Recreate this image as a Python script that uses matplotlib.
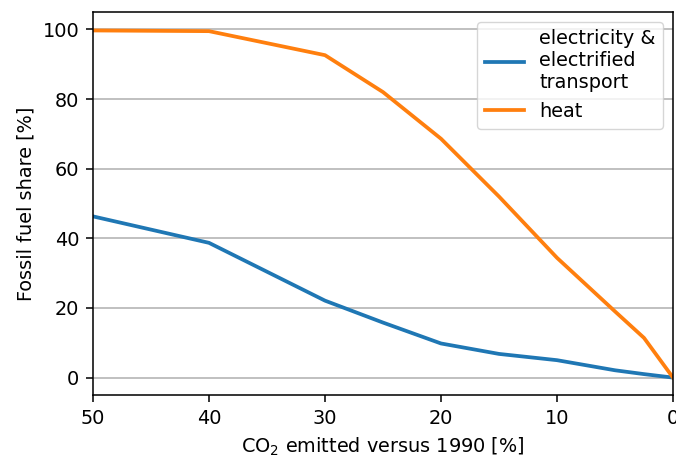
import matplotlib
matplotlib.use("Agg")
import matplotlib.pyplot as plt

co2 = [50, 40, 30, 25, 20, 15, 10, 5, 2.5, 0]
electricity = [46.3, 38.7, 22.1, 15.8, 9.8, 6.8, 5.0, 2.1, 1.0, 0.0]
heat = [99.7, 99.5, 92.6, 82.0, 68.6, 52.0, 34.4, 19.0, 11.4, 0.0]
xticks = [50, 40, 30, 20, 10, 0]
yticks = [0, 20, 40, 60, 80, 100]

s = 1.39
plt.rcParams.update({
    'font.size': 10 * s,
    'axes.linewidth': 0.8 * s,
    'xtick.major.size': 3.5 * s, 'ytick.major.size': 3.5 * s,
    'xtick.major.width': 0.8 * s, 'ytick.major.width': 0.8 * s,
    'xtick.major.pad': 3.5 * s, 'ytick.major.pad': 3.5 * s,
    'axes.labelpad': 4.0 * s,
})
fig = plt.figure(figsize=(6.76, 4.57), dpi=100)
ax = fig.add_axes([93/676, 1-395/457, (673-93)/676, (395-12)/457])
ax.plot(co2, electricity, color='#1f77b4', lw=2.7, label='electricity &\nelectrified\ntransport')
ax.plot(co2, heat, color='#ff7f0e', lw=2.7, label='heat')
ax.set_xlim(50, 0)
ax.set_ylim(-5, 105)
ax.set_xticks(xticks)
ax.set_yticks(yticks)
ax.grid(axis='y', color='#b0b0b0', lw=0.8 * s)
ax.set_axisbelow(True)
ax.set_xlabel('CO$_2$ emitted versus 1990 [%]')
ax.set_ylabel('Fossil fuel share [%]')
ax.legend(loc='upper right')
fig.savefig('out.png', dpi=100)
